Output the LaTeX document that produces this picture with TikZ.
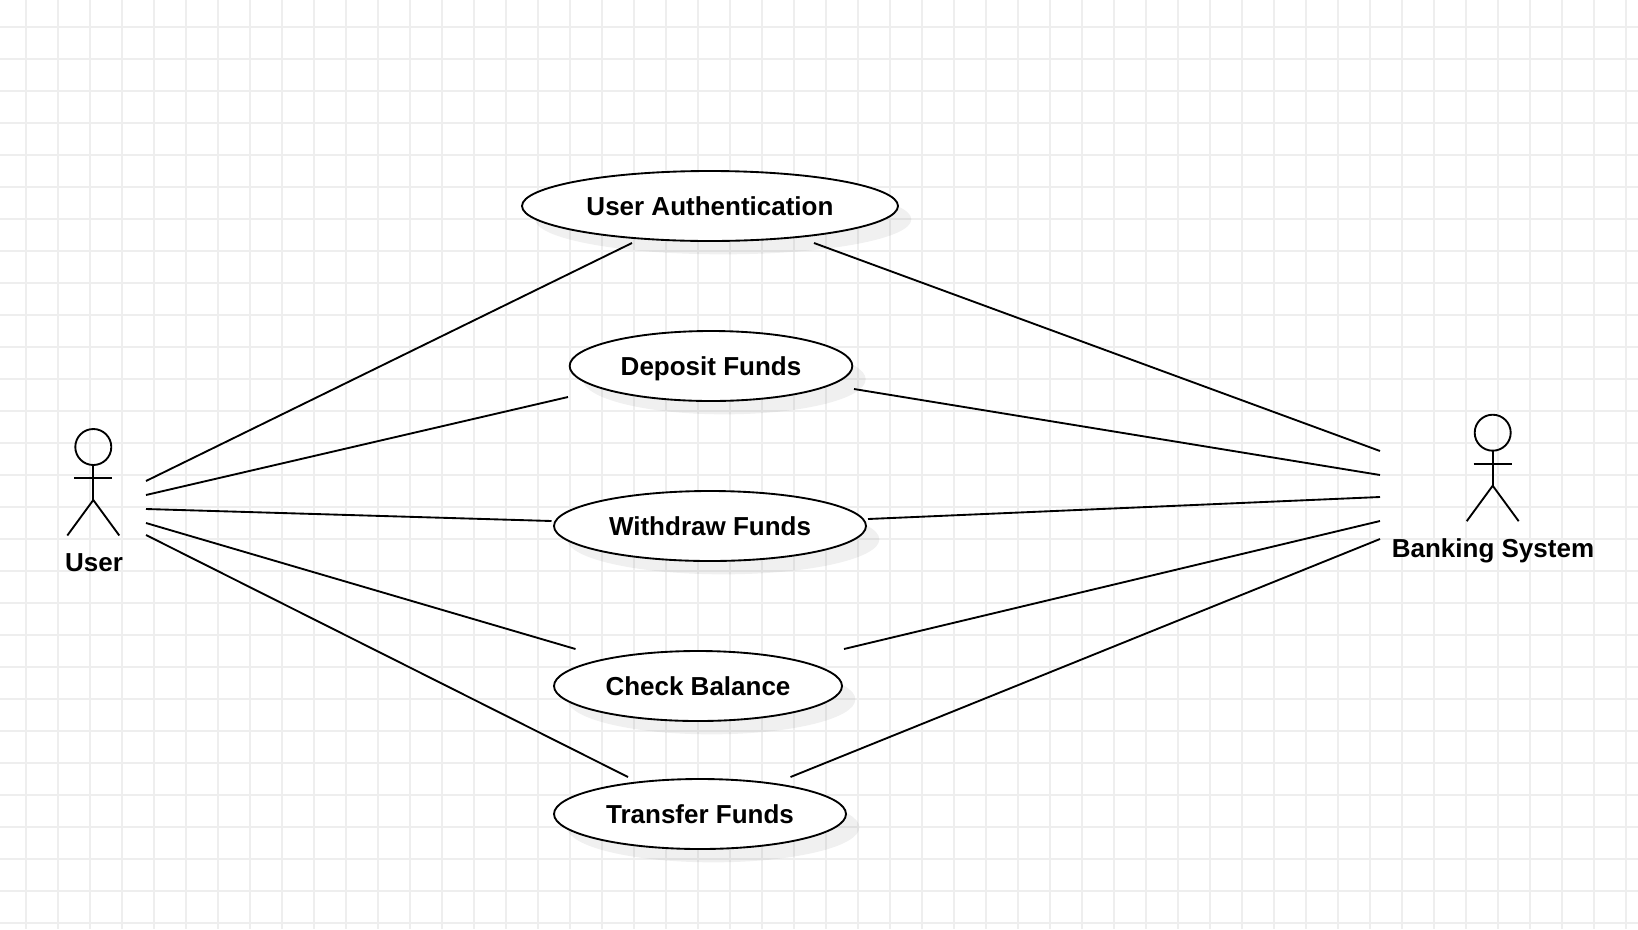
\documentclass[tikz,border=0pt]{standalone}
\usepackage{fontspec}
\setmainfont{Liberation Sans}
\usetikzlibrary{shapes.geometric,shadows}
\definecolor{gridgray}{HTML}{EEEEEE}
\tikzset{
    usecase/.style={ellipse, draw, line width=1.4pt, fill=white, inner sep=0pt,
        minimum height=52.5pt, text depth=0pt, font=\fontsize{19.5}{23}\bfseries\selectfont,
        drop shadow={shadow xshift=10pt, shadow yshift=-10pt, fill=black, opacity=0.06}},
    actorlabel/.style={font=\fontsize{19.5}{23}\bfseries\selectfont, inner sep=0pt, text depth=0pt},
    link/.style={line width=1.4pt},
    pics/stickman/.style={code={
        \draw[line width=1.4pt] (0,0) circle[radius=18];
        \draw[line width=1.4pt] (0,18) -- (0,53);
        \draw[line width=1.4pt] (-19,31) -- (19,31);
        \draw[line width=1.4pt] (-26,88.5) -- (0,53) -- (26,88.5);
    }}
}
\begin{document}
\begin{tikzpicture}[x=0.75pt, y=-0.75pt]
    \useasboundingbox (0,0) rectangle (1638,929);
    \fill[white] (0,0) rectangle (1638,929);
    % grid
    \foreach \gx in {26,58,...,1626}
        \draw[gridgray, line width=1.2pt] (\gx,0) -- (\gx,929);
    \foreach \gy in {27,59,...,923}
        \draw[gridgray, line width=1.2pt] (0,\gy) -- (1638,\gy);

    % use cases
    \node[usecase, minimum width=282pt] (auth) at (710,206) {User Authentication};
    \node[usecase, minimum width=212pt] (deposit) at (711,366) {Deposit Funds};
    \node[usecase, minimum width=234pt] (withdraw) at (710,526) {Withdraw Funds};
    \node[usecase, minimum width=216pt] (balance) at (698,686) {Check Balance};
    \node[usecase, minimum width=219pt] (transfer) at (700,814) {Transfer Funds};

    % actors
    \pic at (93.3,447) {stickman};
    \pic at (1492.7,432.7) {stickman};
    \node[actorlabel] (user) at (94,562.5) {User};
    \node[actorlabel] (bank) at (1493,548.5) {Banking System};

    % free ends next to the actors
    \coordinate (userA) at (146,481);
    \coordinate (userB) at (146,495);
    \coordinate (userC) at (146,509);
    \coordinate (userD) at (146,523);
    \coordinate (userE) at (146,535);
    \coordinate (bankA) at (1380,451);
    \coordinate (bankB) at (1380,475);
    \coordinate (bankC) at (1380,497);
    \coordinate (bankD) at (1380,521);
    \coordinate (bankE) at (1380,539);

    % free ends next to the use cases
    \coordinate (authL) at (632,243);
    \coordinate (authR) at (814,243);
    \coordinate (depositL) at (568,397);
    \coordinate (depositR) at (854,389);
    \coordinate (withdrawL) at (551.5,521);
    \coordinate (withdrawR) at (868,519);
    \coordinate (balanceL) at (575.5,649);
    \coordinate (balanceR) at (844,649);
    \coordinate (transferL) at (628,777);
    \coordinate (transferR) at (790.5,777);

    \draw[link] (userA) -- (authL);
    \draw[link] (userB) -- (depositL);
    \draw[link] (userC) -- (withdrawL);
    \draw[link] (userD) -- (balanceL);
    \draw[link] (userE) -- (transferL);
    \draw[link] (authR) -- (bankA);
    \draw[link] (depositR) -- (bankB);
    \draw[link] (withdrawR) -- (bankC);
    \draw[link] (balanceR) -- (bankD);
    \draw[link] (transferR) -- (bankE);
\end{tikzpicture}
\end{document}
